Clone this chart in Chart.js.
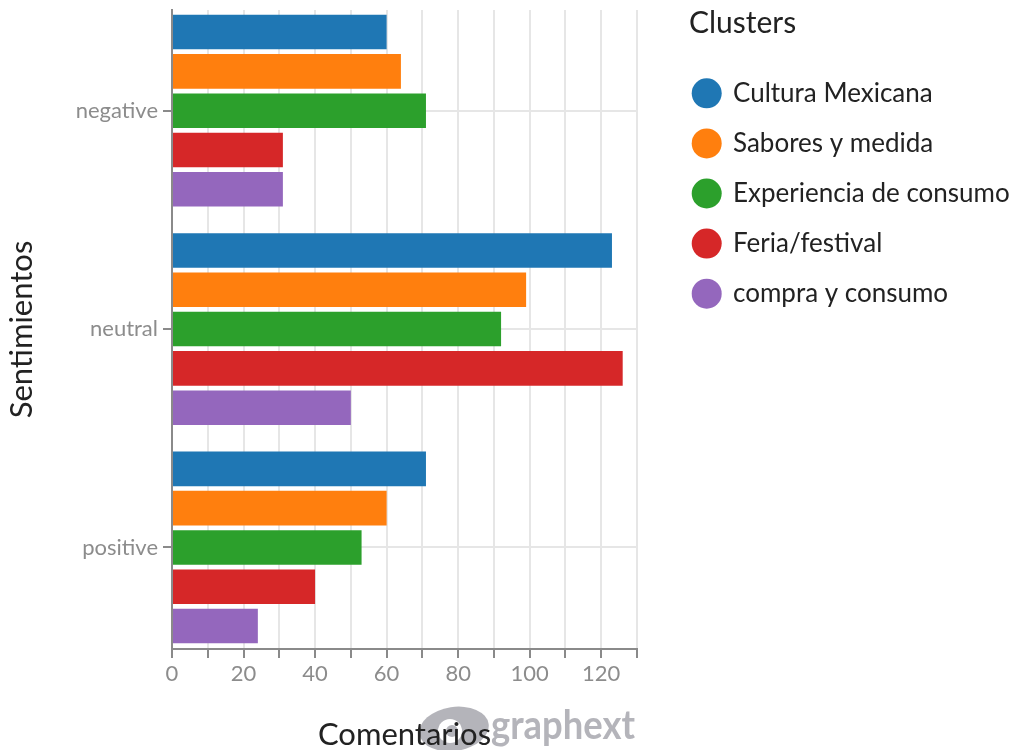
<!DOCTYPE html>
<html>
<head>
<meta charset="utf-8">
<script src="https://cdn.jsdelivr.net/npm/chart.js@4.4.0/dist/chart.umd.min.js"></script>
<style>
  html, body { margin: 0; padding: 0; background: #ffffff; }
  #wrap { position: relative; width: 1013px; height: 750px; }
  canvas { display: block; }
</style>
</head>
<body>
<div id="wrap"><canvas id="c" width="1013" height="750"></canvas></div>
<script>
// ---- data ----
const categories = ['negative', 'neutral', 'positive'];
const clusterNames = ['Cultura Mexicana', 'Sabores y medida', 'Experiencia de consumo', 'Feria/festival', 'compra y consumo'];
const culturaMexicana      = [60, 123, 71];
const saboresYMedida       = [64, 99, 60];
const experienciaDeConsumo = [71, 92, 53];
const feriaFestival        = [31, 126, 40];
const compraYConsumo       = [31, 50, 24];
const xTickLabels = [0, 20, 40, 60, 80, 100, 120];
const legendTitle = 'Clusters';
const xTitle = 'Comentarios';
const yTitle = 'Sentimientos';
const watermarkText = 'graphext';

const seriesValues = [culturaMexicana, saboresYMedida, experienciaDeConsumo, feriaFestival, compraYConsumo];
const seriesColors = ['#1f77b4', '#ff7f0e', '#2ca02c', '#d62728', '#9467bd'];

const datasets = clusterNames.map((name, k) => ({
  label: name,
  data: seriesValues[k].map((v, i) => ({ x: v, y: i })),
  backgroundColor: seriesColors[k],
  borderWidth: 0,
  barPercentage: 0.88,
  categoryPercentage: 0.9
}));

Chart.defaults.font.family = 'Lato';

const watermarkPlugin = {
  id: 'watermark',
  beforeDraw(chart) {
    const ctx = chart.ctx;
    ctx.save();
    const grey = 'rgba(172,172,178,0.9)';
    ctx.fillStyle = grey;
    ctx.beginPath();
    ctx.ellipse(454, 729, 35, 22, -0.15, 0, Math.PI * 2);
    ctx.fill();
    ctx.fillStyle = '#ffffff';
    ctx.beginPath();
    ctx.arc(450, 731, 12, 0, Math.PI * 2);
    ctx.fill();
    ctx.fillStyle = grey;
    ctx.beginPath();
    ctx.arc(452, 731, 6, 0, Math.PI * 2);
    ctx.fill();
    ctx.font = 'bold 41px Lato';
    ctx.textAlign = 'left';
    ctx.textBaseline = 'alphabetic';
    ctx.fillText(watermarkText, 491, 739, 144);
    ctx.restore();
  }
};

const legendPlugin = {
  id: 'clusterLegend',
  afterDraw(chart) {
    const ctx = chart.ctx;
    ctx.save();
    ctx.textAlign = 'left';
    ctx.textBaseline = 'alphabetic';
    ctx.fillStyle = '#222222';
    ctx.font = '30px Lato';
    ctx.fillText(legendTitle, 689, 33);
    chart.data.datasets.forEach((ds, i) => {
      const cy = 93.3 + i * 50.1;
      ctx.beginPath();
      ctx.arc(706.7, cy, 15, 0, Math.PI * 2);
      ctx.fillStyle = ds.backgroundColor;
      ctx.fill();
      ctx.fillStyle = '#222222';
      ctx.font = '26px Lato';
      ctx.fillText(ds.label, 733, cy + 8.6);
    });
    ctx.restore();
  }
};

new Chart(document.getElementById('c'), {
  type: 'bar',
  data: { datasets },
  plugins: [watermarkPlugin, legendPlugin],
  options: {
    indexAxis: 'y',
    responsive: false,
    animation: false,
    devicePixelRatio: 1,
    layout: { padding: { top: 10, right: 376, left: 0, bottom: 0 } },
    plugins: { legend: { display: false }, tooltip: { enabled: false } },
    scales: {
      x: {
        type: 'linear',
        position: 'bottom',
        min: 0,
        max: 130,
        ticks: {
          stepSize: 10,
          autoSkip: false,
          maxRotation: 0,
          color: '#8c8c8c',
          font: { family: 'Lato', size: 22 },
          padding: 3,
          callback: v => (xTickLabels.includes(v) ? String(v) : '')
        },
        grid: { color: '#e6e6e6', lineWidth: 2, tickLength: 9, tickColor: '#8a8a8a', tickWidth: 2 },
        border: { color: '#8a8a8a', width: 2 },
        title: {
          display: true, text: xTitle, color: '#222222',
          font: { family: 'Lato', size: 31, lineHeight: 1 },
          padding: { top: 0, bottom: 0 }
        },
        afterFit: s => { s.height = 101; s.paddingLeft = 0; s.paddingRight = 0; }
      },
      y: {
        type: 'linear',
        reverse: true,
        offset: false,
        min: -0.461,
        max: 2.465,
        ticks: {
          stepSize: 1,
          includeBounds: false,
          autoSkip: false,
          color: '#8c8c8c',
          font: { family: 'Lato', size: 22 },
          padding: 5,
          callback: v => (Number.isInteger(v) && categories[v] !== undefined ? categories[v] : '')
        },
        grid: { offset: false, color: '#e6e6e6', lineWidth: 2, tickLength: 9, tickColor: '#8a8a8a', tickWidth: 2 },
        border: { color: '#8a8a8a', width: 2 },
        title: {
          display: true, text: yTitle, color: '#222222',
          font: { family: 'Lato', size: 31, lineHeight: 1 },
          padding: { top: 6, bottom: 0 }
        },
        afterFit: s => { s.width = 172; s.paddingTop = 0; s.paddingBottom = 0; }
      }
    }
  }
});
</script>
</body>
</html>
